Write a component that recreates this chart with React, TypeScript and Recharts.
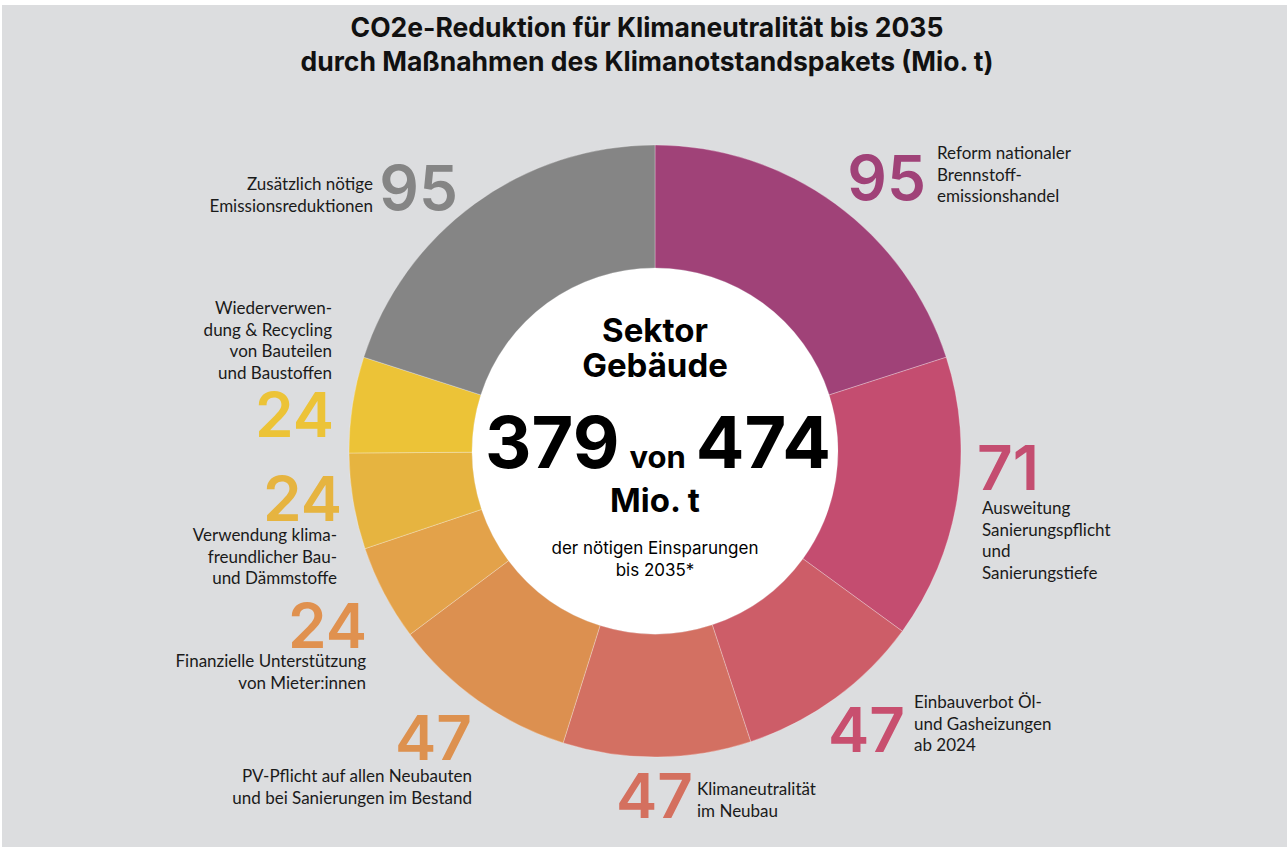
import React from 'react';
import { PieChart, Pie, Cell } from 'recharts';

// values in Mio. t, clockwise from 12 o'clock
const measures = [
  'Reform nationaler Brennstoffemissionshandel',
  'Ausweitung Sanierungspflicht und Sanierungstiefe',
  'Einbauverbot Öl- und Gasheizungen ab 2024',
  'Klimaneutralität im Neubau',
  'PV-Pflicht auf allen Neubauten und bei Sanierungen im Bestand',
  'Finanzielle Unterstützung von Mieter:innen',
  'Verwendung klimafreundlicher Bau- und Dämmstoffe',
  'Wiederverwendung & Recycling von Bauteilen und Baustoffen',
  'Zusätzlich nötige Emissionsreduktionen',
];
const values = [95, 71, 47, 47, 47, 24, 24, 24, 95];
const labelLines = [
  ['Reform nationaler', 'Brennstoff-', 'emissionshandel'],
  ['Ausweitung', 'Sanierungspflicht', 'und', 'Sanierungstiefe'],
  ['Einbauverbot Öl-', 'und Gasheizungen', 'ab 2024'],
  ['Klimaneutralität', 'im Neubau'],
  ['PV-Pflicht auf allen Neubauten', 'und bei Sanierungen im Bestand'],
  ['Finanzielle Unterstützung', 'von Mieter:innen'],
  ['Verwendung klima-', 'freundlicher Bau-', 'und Dämmstoffe'],
  ['Wiederverwen-', 'dung & Recycling', 'von Bauteilen', 'und Baustoffen'],
  ['Zusätzlich nötige', 'Emissionsreduktionen'],
];
const achieved = 379;
const needed = 474;

const colors = ['#a04278', '#c44d70', '#cd5d68', '#d37062', '#dc9050', '#e3a24a', '#e6b440', '#ecc337', '#858585'];
// the big numbers are not always the same tone as their slice
const numColors = ['#a04278', '#c44d70', '#c84f6f', '#d4705f', '#dd914f', '#e0914f', '#e6b440', '#ecc337', '#858585'];

// where each slice's annotation sits on the page
const labelLayout = [
  { nx: 926, ny: 200, na: 'end', tx: 937, ty: 159, ta: 'start' },
  { nx: 977, ny: 490, na: 'start', tx: 982, ty: 514, ta: 'start' },
  { nx: 905, ny: 752, na: 'end', tx: 914, ty: 708, ta: 'start' },
  { nx: 693, ny: 818, na: 'end', tx: 697, ty: 795, ta: 'start' },
  { nx: 472, ny: 760, na: 'end', tx: 472, ty: 782, ta: 'end' },
  { nx: 367, ny: 648, na: 'end', tx: 366, ty: 667, ta: 'end' },
  { nx: 342, ny: 521, na: 'end', tx: 337, ty: 541, ta: 'end' },
  { nx: 334, ny: 437, na: 'end', tx: 332, ty: 314, ta: 'end' },
  { nx: 458, ny: 210, na: 'end', tx: 373, ty: 190, ta: 'end' },
];

const data = measures.map((name, i) => ({ name, value: values[i] }));

const CX = 655;
const CY = 451;

const numFont = 'Inter, sans-serif';
const textFont = 'Lato, sans-serif';

const renderLabel = (props: any) => {
  const i = props.index;
  const l = labelLayout[i];
  return (
    <g key={`lbl-${i}`}>
      <text x={l.nx} y={l.ny} textAnchor={l.na} fill={numColors[i]} fontFamily={numFont} fontWeight={600} fontSize={62}>
        {values[i]}
      </text>
      <text x={l.tx} y={l.ty} textAnchor={l.ta} fill="#1a1a1a" fontFamily={textFont} fontSize={17}>
        {labelLines[i].map((line, j) => (
          <tspan key={j} x={l.tx} dy={j === 0 ? 0 : 21.5}>{line}</tspan>
        ))}
      </text>
    </g>
  );
};

export default function App() {
  return (
    <div style={{ position: 'absolute', left: 0, top: 0, width: 1287, height: 847, background: '#fff' }}>
      <div style={{ position: 'absolute', left: 2, top: 5, width: 1285, height: 842, background: '#dcdddf' }} />
      <div style={{ position: 'absolute', left: 0, top: 10, width: 1294, textAlign: 'center', fontFamily: numFont, fontWeight: 700, fontSize: 26.5, lineHeight: '34px', color: '#111' }}>
        CO2e-Reduktion für Klimaneutralität bis 2035
        <br />
        durch Maßnahmen des Klimanotstandspakets (Mio. t)
      </div>
      <div style={{ position: 'absolute', left: 0, top: 0 }}>
        <PieChart width={1287} height={847} margin={{ top: 0, right: 0, bottom: 0, left: 0 }}>
          <circle cx={CX} cy={CY} r={183} fill="#fff" />
          <Pie
            data={data}
            dataKey="value"
            nameKey="name"
            cx={CX}
            cy={CY}
            innerRadius={183}
            outerRadius={306}
            startAngle={90}
            endAngle={-270}
            stroke="rgba(255,255,255,0.35)"
            strokeWidth={0.8}
            label={renderLabel}
            labelLine={false}
            isAnimationActive={false}
          >
            {data.map((d, i) => (
              <Cell key={d.name} fill={colors[i]} />
            ))}
          </Pie>
          <g fontFamily={numFont} fill="#000" textAnchor="middle">
            <text x={CX} y={CY - 109} fontSize={33} fontWeight={700}>Sektor</text>
            <text x={CX} y={CY - 74} fontSize={33} fontWeight={700}>Gebäude</text>
            <text x={CX + 3} y={CY + 17} fontWeight={700}>
              <tspan fontSize={72}>{achieved}</tspan>
              <tspan fontSize={31} dx={10}>von</tspan>
              <tspan fontSize={72} dx={10}>{needed}</tspan>
            </text>
            <text x={CX} y={CY + 61} fontSize={33} fontWeight={700}>Mio. t</text>
            <text x={CX} y={CY + 103} fontSize={17} fontWeight={400}>der nötigen Einsparungen</text>
            <text x={CX} y={CY + 125} fontSize={17} fontWeight={400}>bis 2035*</text>
          </g>
        </PieChart>
      </div>
    </div>
  );
}
